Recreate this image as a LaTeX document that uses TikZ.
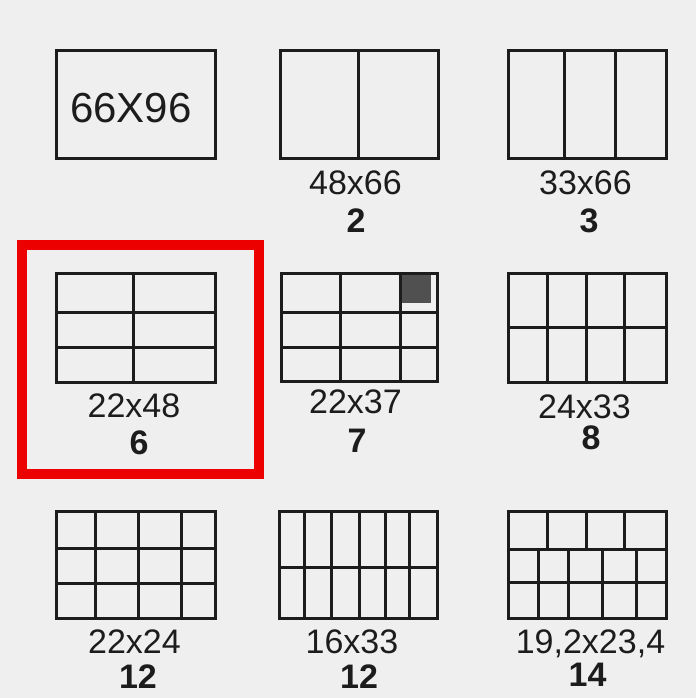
\documentclass[tikz,border=0pt]{standalone}
\usepackage{fontspec}
\setmainfont{Liberation Sans}
\definecolor{bg}{RGB}{239,239,240}
\definecolor{ink}{RGB}{28,28,28}
\definecolor{hl}{RGB}{236,0,0}
\definecolor{cellfill}{RGB}{80,80,80}
\tikzset{
  grid/.style={draw=ink, line width=3pt},
  dim/.style={inner sep=0pt, anchor=base, text=ink, font=\fontsize{34}{34}\selectfont},
  cnt/.style={inner sep=0pt, anchor=base, text=ink, font=\fontsize{34}{34}\selectfont\bfseries},
}
\begin{document}
\begin{tikzpicture}[x=1pt,y=-1pt]
\fill[bg] (0,0) rectangle (696,698);
\useasboundingbox (0,0) rectangle (696,698);

% Row 1
\draw[grid] (56,51) rectangle (215,158);
\node[inner sep=0pt, anchor=base, text=ink, font=\fontsize{42}{42}\selectfont] (t1) at (131,123) {66X96};

\draw[grid] (280,51) rectangle (438,158);
\draw[grid] (358,51) -- (358,158);
\node[dim] (d2) at (355.5,194) {48x66};
\node[cnt] (n2) at (356,232) {2};

\draw[grid] (508,51) rectangle (666,158);
\draw[grid] (564,51) -- (564,158) (615,51) -- (615,158);
\node[dim] (d3) at (585.5,194) {33x66};
\node[cnt] (n3) at (589,232) {3};

% Row 2
\draw[hl, line width=10pt] (22,245) rectangle (259,474);

\draw[grid] (56,273) rectangle (215,382);
\draw[grid] (133,273) -- (133,382) (56,312) -- (215,312) (56,347) -- (215,347);
\node[dim] (d6) at (134,417.5) {22x48};
\node[cnt] (n6) at (139,454.5) {6};

\fill[cellfill] (401.5,275) rectangle (431,302.5);
\draw[grid] (281,273) rectangle (437,381);
\draw[grid] (340,273) -- (340,381) (400,273) -- (400,381) (281,312) -- (437,312) (281,347) -- (437,347);
\node[dim] (d7) at (355.5,413) {22x37};
\node[cnt] (n7) at (357,452) {7};

\draw[grid] (508,273) rectangle (666,382);
\draw[grid] (547.5,273) -- (547.5,382) (586,273) -- (586,382) (624.5,273) -- (624.5,382) (508,327) -- (666,327);
\node[dim] (d8) at (584.5,418.5) {24x33};
\node[cnt] (n8) at (591,449.5) {8};

% Row 3
\draw[grid] (56,511) rectangle (215,618);
\draw[grid] (95.5,511) -- (95.5,618) (138.5,511) -- (138.5,618) (181,511) -- (181,618)
  (56,548) -- (215,548) (56,583) -- (215,583);
\node[dim] (d10) at (134.5,653.5) {22x24};
\node[cnt] (n10) at (138,688.5) {12};

\draw[grid] (279,511) rectangle (437,618);
\draw[grid] (304,511) -- (304,618) (331,511) -- (331,618) (359,511) -- (359,618)
  (385,511) -- (385,618) (409,511) -- (409,618) (279,567) -- (437,567);
\node[dim] (d11) at (352,653.5) {16x33};
\node[cnt] (n11) at (359,688.5) {12};

\draw[grid] (508,511) rectangle (666,618);
\draw[grid] (547.5,511) -- (547.5,549.5) (586,511) -- (586,549.5) (624,511) -- (624,549.5)
  (508,549.5) -- (666,549.5) (508,582) -- (666,582)
  (538.5,549.5) -- (538.5,618) (568.5,549.5) -- (568.5,618) (602,549.5) -- (602,618) (636,549.5) -- (636,618);
\node[dim] (d12) at (590.5,653.5) {19,2x23,4};
\node[cnt] (n12) at (587.5,686.5) {14};
\end{tikzpicture}
\end{document}
